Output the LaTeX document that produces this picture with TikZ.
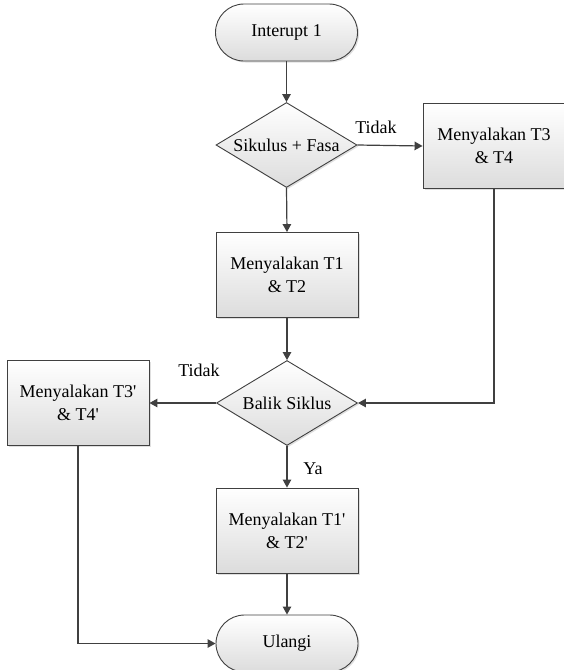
\documentclass[tikz,border=0pt]{standalone}
\usepackage{fontspec}
\setmainfont{Liberation Serif}
\usetikzlibrary{shapes.geometric,shapes.misc,arrows.meta,shadows}
\definecolor{lineclr}{HTML}{404040}
\definecolor{fillbot}{HTML}{DCDCDC}
\tikzset{
  base/.style={draw=lineclr, line width=0.9pt, top color=white, bottom color=fillbot,
    drop shadow={shadow xshift=1.5pt, shadow yshift=-1.5pt, opacity=0.25, fill=gray},
    font=\fontsize{18}{23}\selectfont, align=center, inner sep=0pt},
  term/.style={base, rounded rectangle, minimum width=142pt, minimum height=57pt},
  procbox/.style={base, rectangle, minimum width=142pt, minimum height=85pt},
  decision/.style={base, diamond, minimum width=141pt, minimum height=85pt},
  conn/.style={draw=lineclr, line width=1.2pt, -{Triangle[length=8pt,width=8.5pt]}},
  lbl/.style={font=\fontsize{18}{22}\selectfont, inner sep=0pt}
}
\begin{document}
\begin{tikzpicture}[x=1pt,y=-1pt]
\useasboundingbox (0,0) rectangle (563,670);
\node[term] (start) at (286.5,32.5) {Interupt 1};
\node[decision, label={center:{\fontsize{18}{22}\selectfont Sikulus + Fasa}}] (d1) at (286.5,145) {};
\node[procbox] (b1) at (494,146) {Menyalakan T3\\\& T4};
\node[procbox] (b2) at (287,275) {Menyalakan T1\\\& T2};
\node[decision, label={center:{\fontsize{18}{22}\selectfont Balik Siklus}}] (d2) at (287,403) {};
\node[procbox] (b3) at (78,403) {Menyalakan T3\textquotesingle\\\& T4\textquotesingle};
\node[procbox] (b4) at (287,530.5) {Menyalakan T1\textquotesingle\\\& T2\textquotesingle};
\node[term] (end) at (287,643.5) {Ulangi};

\node[lbl] (t1) at (376,127) {Tidak};
\node[lbl] (t2) at (199,370) {Tidak};
\node[lbl] (ya) at (313,469) {Ya};

\draw[conn] (start.south) -- (d1.north);
\draw[conn] (d1.east) -- (b1.west);
\draw[conn] (d1.south) -- (b2.north);
\draw[conn] (b2.south) -- (d2.north);
\draw[conn] (b1.south) |- (d2.east);
\draw[conn] (d2.west) -- (b3.east);
\draw[conn] (d2.south) -- (b4.north);
\draw[conn] (b4.south) -- (end.north);
\draw[conn] (b3.south) |- (end.west);
\end{tikzpicture}
\end{document}
